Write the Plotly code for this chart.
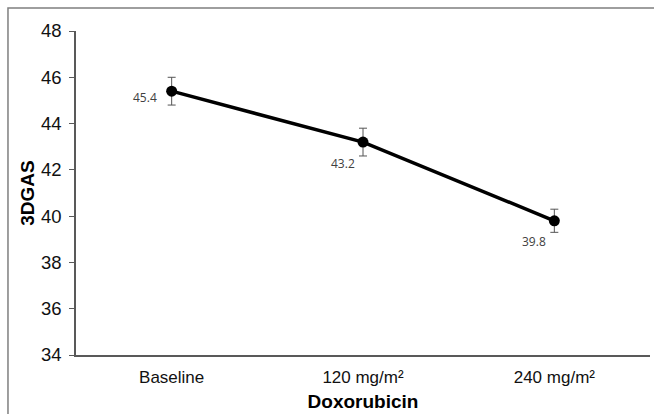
import plotly.graph_objects as go

categories = ["Baseline", "120 mg/m²", "240 mg/m²"]
values = [45.4, 43.2, 39.8]
errors = [0.6, 0.6, 0.5]
y_ticks = [34, 36, 38, 40, 42, 44, 46, 48]

fig = go.Figure()
fig.add_trace(go.Scatter(
    x=categories, y=values, mode="lines+markers",
    line=dict(color="black", width=3.5),
    marker=dict(color="black", size=11),
    error_y=dict(type="data", array=errors, visible=True, color="#555555", thickness=1, width=4),
    showlegend=False, hoverinfo="skip",
))

label_shifts = [(-27, -6), (-20, -21), (-20, -21)]
for c, v, (dx, dy) in zip(categories, values, label_shifts):
    fig.add_annotation(x=c, y=v, text=f"{v:.1f}", showarrow=False,
                       xshift=dx, yshift=dy,
                       font=dict(family="Open Sans, Arial", size=12, color="#404040"))

# outer frame (top and left edges)
fig.add_shape(type="path", xref="paper", yref="paper",
              path="M -0.1185 -0.2 L -0.1185 1.071 L 1.02 1.071",
              line=dict(color="#7f7f7f", width=1.5))

fig.update_layout(
    width=654, height=414,
    margin=dict(l=76, r=4, t=31, b=59),
    paper_bgcolor="white", plot_bgcolor="white",
    font=dict(family="Liberation Sans, Arial", color="black"),
    xaxis=dict(
        type="category", range=[-0.5, 2.5], automargin=False,
        showline=True, linecolor="#595959", linewidth=1.5,
        ticks="", showgrid=False, zeroline=False,
        tickfont=dict(size=17, color="#111111"), ticklabelstandoff=6,
        title=dict(text="<b>Doxorubicin</b>", font=dict(size=19), standoff=9),
    ),
    yaxis=dict(
        range=[34, 48], tickvals=y_ticks, automargin=False,
        showline=True, linecolor="#595959", linewidth=1.5,
        ticks="outside", ticklen=5, tickcolor="#595959",
        showgrid=False, zeroline=False,
        tickfont=dict(size=18.5, color="#111111"), ticklabelstandoff=4,
        title=dict(text="<b>3DGAS</b>", font=dict(size=19), standoff=1),
    ),
)

fig.write_html("out.html", config={"displayModeBar": False},
               post_script="document.body.style.margin='0';document.body.style.overflow='hidden';")
